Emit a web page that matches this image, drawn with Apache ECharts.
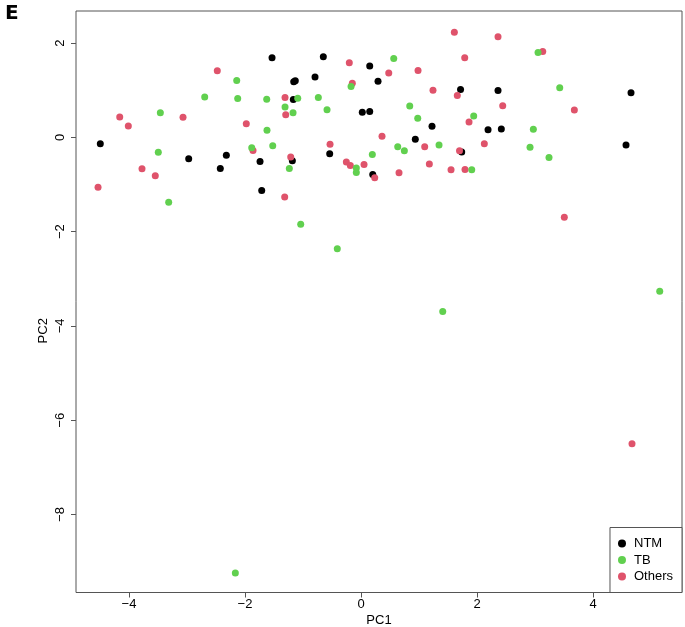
<!DOCTYPE html>
<html>
<head>
<meta charset="utf-8">
<script src="https://cdn.jsdelivr.net/npm/echarts@6/dist/echarts.min.js"></script>
<style>
  html, body { margin: 0; padding: 0; background: #fff; }
  #chart { width: 685px; height: 627px; }
</style>
</head>
<body>
<div id="chart"></div>
<script>
// PCA scores, [PC1, PC2]
const ntmPoints = [
  [-1.534, 1.687], [-2.322, -0.383], [-2.971, -0.455], [-1.741, -0.511], [-2.426, -0.660],
  [-4.495, -0.136], [-1.712, -1.128], [-0.650, 1.709], [0.150, 1.511], [-0.793, 1.277],
  [-1.160, 1.177], [-1.133, 1.198], [0.293, 1.191], [1.716, 1.013], [-1.167, 0.800],
  [0.022, 0.532], [0.150, 0.545], [1.224, 0.234], [0.936, -0.043], [-0.540, -0.349],
  [1.736, -0.313], [-1.184, -0.498], [0.202, -0.787], [2.362, 0.991], [4.655, 0.943],
  [2.190, 0.162], [2.419, 0.177], [4.569, -0.164]
];
const tbPoints = [
  [-2.143, 1.204], [-2.695, 0.857], [-2.126, 0.821], [-1.626, 0.809], [-3.460, 0.523],
  [-1.621, 0.149], [-1.884, -0.221], [-1.522, -0.179], [-3.495, -0.319], [-3.316, -1.377],
  [0.564, 1.672], [-0.172, 1.077], [-1.091, 0.830], [-0.736, 0.843], [-1.310, 0.645],
  [-1.172, 0.523], [-0.586, 0.587], [0.840, 0.666], [0.978, 0.404], [-1.236, -0.660],
  [-0.081, -0.653], [-0.081, -0.745], [0.195, -0.362], [0.633, -0.200], [0.747, -0.285],
  [1.345, -0.164], [1.909, -0.689], [3.052, 1.800], [3.426, 1.049], [1.943, 0.453],
  [2.971, 0.170], [2.914, -0.213], [3.241, -0.426], [-1.040, -1.845], [-0.409, -2.362],
  [1.409, -3.696], [5.150, -3.264], [-2.167, -9.243]
];
const othersPoints = [
  [-2.478, 1.411], [-4.160, 0.432], [-3.069, 0.426], [-4.012, 0.240], [-1.978, 0.289],
  [-1.862, -0.277], [-3.776, -0.668], [-3.547, -0.817], [-4.534, -1.057], [-0.202, 1.581],
  [1.609, 2.226], [1.788, 1.687], [0.478, 1.362], [0.983, 1.417], [-0.150, 1.149],
  [1.241, 1.000], [1.660, 0.885], [-1.310, 0.843], [-1.298, 0.481], [1.862, 0.326],
  [0.362, 0.021], [-0.534, -0.149], [1.098, -0.200], [1.698, -0.285], [-1.212, -0.419],
  [-0.253, -0.526], [-0.184, -0.596], [0.052, -0.574], [0.236, -0.860], [0.655, -0.753],
  [1.178, -0.568], [1.552, -0.689], [1.793, -0.681], [-1.316, -1.264], [2.362, 2.134],
  [3.133, 1.821], [2.443, 0.672], [3.678, 0.581], [2.126, -0.136], [3.505, -1.696],
  [4.672, -6.498]
];
const xTicks = [-4, -2, 0, 2, 4];
const yTicks = [-8, -6, -4, -2, 0, 2];

document.addEventListener('DOMContentLoaded', function() {
  const chart = echarts.init(document.getElementById('chart'));
  const font = "'Liberation Sans', Arial, sans-serif";
  const axisColor = '#555';
  const minus = function(v) { return String(v).replace('-', '\u2212'); };

  const option = {
    animation: false,
    textStyle: { fontFamily: font },
    title: {
      text: 'E',
      left: 0,
      top: -1,
      textStyle: { fontSize: 20, fontWeight: 900, color: '#000', fontFamily: "'DejaVu Sans', sans-serif" }
    },
    grid: {
      left: 76, top: 11, width: 606, height: 581.5,
      outerBoundsMode: 'none', containLabel: false,
      show: true, borderColor: axisColor, borderWidth: 1
    },
    legend: {
      data: ['NTM', 'TB', 'Others'],
      orient: 'vertical',
      right: 3,
      bottom: 34.5,
      icon: 'circle',
      itemWidth: 8,
      itemHeight: 8,
      itemGap: 2.5,
      padding: [9, 9, 9, 8],
      borderColor: axisColor,
      borderWidth: 1,
      backgroundColor: '#fff',
      selectedMode: false,
      textStyle: { fontSize: 13, color: '#000', lineHeight: 14, padding: [0, 0, 0, 3], fontFamily: font }
    },
    xAxis: {
      type: 'value',
      min: -4.914,
      max: 5.534,
      name: 'PC1',
      nameLocation: 'middle',
      nameGap: 21,
      nameMoveOverlap: false,
      nameTextStyle: { fontSize: 13, color: '#000' },
      axisLine: { show: false, onZero: false },
      axisTick: { show: true, customValues: xTicks, length: 5, lineStyle: { color: axisColor } },
      axisLabel: { customValues: xTicks, fontSize: 13, color: '#000', margin: 5, formatter: minus },
      splitLine: { show: false }
    },
    yAxis: {
      type: 'value',
      min: -9.654,
      max: 2.679,
      name: 'PC2',
      nameLocation: 'middle',
      nameRotate: 90,
      nameGap: 26,
      nameMoveOverlap: false,
      nameTextStyle: { fontSize: 13, color: '#000', padding: [0, 58, 0, 0] },
      axisLine: { show: false, onZero: false },
      axisTick: { show: true, customValues: yTicks, length: 5, lineStyle: { color: axisColor } },
      axisLabel: { customValues: yTicks, fontSize: 13, color: '#000', margin: 9, rotate: 90, formatter: minus },
      splitLine: { show: false }
    },
    series: [
      { name: 'NTM', type: 'scatter', symbolSize: 7, itemStyle: { color: '#000000', opacity: 1 }, data: ntmPoints },
      { name: 'Others', type: 'scatter', symbolSize: 7, itemStyle: { color: '#DF536B', opacity: 1 }, data: othersPoints },
      { name: 'TB', type: 'scatter', symbolSize: 7, itemStyle: { color: '#61D04F', opacity: 1 }, data: tbPoints }
    ]
  };
  chart.setOption(option);
});
</script>
</body>
</html>
